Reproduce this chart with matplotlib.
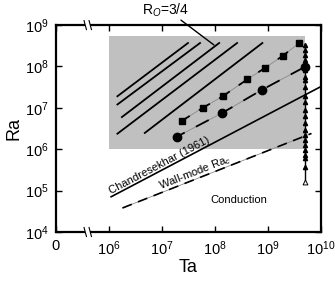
import matplotlib
matplotlib.use("Agg")
import matplotlib.pyplot as plt
from matplotlib.lines import Line2D
from matplotlib.patches import Rectangle
import numpy as np

plt.rcParams['font.family'] = ['Liberation Sans', 'DejaVu Sans']
plt.rcParams['mathtext.fontset'] = 'custom'
plt.rcParams['mathtext.rm'] = 'Liberation Sans'
plt.rcParams['mathtext.it'] = 'Liberation Sans:italic'

# ---- data ----
ta_sq = [2.4e7, 5.9e7, 1.4e8, 4.1e8, 8.9e8, 1.9e9, 3.9e9]
ra_sq = [4.9e6, 1.0e7, 1.9e7, 4.9e7, 9.3e7, 1.8e8, 3.7e8]

ta_ci = [1.9e7, 1.34e8, 7.6e8, 5.0e9]
ra_ci = [2.0e6, 7.4e6, 2.7e7, 9.8e7]

ta_tri = 5.0e9
ra_tri = [3.3e8, 2.5e8, 1.9e8, 1.4e8, 8.1e7, 5.6e7, 4.7e7, 3.2e7, 1.9e7, 1.4e7,
          8.9e6, 6.2e6, 4.3e6, 2.9e6, 2.2e6, 1.66e6, 1.26e6, 9.5e5, 7.2e5, 6.0e5, 3.8e5]
ra_tri_open = 1.6e5

ro_ta_start = [1.4e6, 1.4e6, 1.7e6, 1.4e6, 4.6e6]
ro_ra_start = [1.85e7, 1.17e7, 5.8e6, 2.3e6, 2.4e6]
ro_ta_end = [3.2e7, 5.4e7, 1.24e8, 2.7e8, 8.1e8]
ro_ra_end = [3.8e8, 3.8e8, 3.8e8, 3.8e8, 3.8e8]

chandra_ta = [1.1e6, 1.0e10]
chandra_ra = [7.1e4, 3.27e7]
wall_ta = [1.8e6, 6.6e9]
wall_ra = [3.8e4, 2.4e6]

shade_ta = [1.0e6, 5.0e9]
shade_ra = [1.0e6, 5.6e8]

x_ticks = [1e5, 1e6, 1e7, 1e8, 1e9, 1e10]
x_labels = ['0', '$10^6$', '$10^7$', '$10^8$', '$10^9$', '$10^{10}$']
y_ticks = [1e4, 1e5, 1e6, 1e7, 1e8, 1e9]
y_labels = ['$10^4$', '$10^5$', '$10^6$', '$10^7$', '$10^8$', '$10^9$']
x_break = 10 ** 5.6

# ---- figure ----
fig = plt.figure(figsize=(3.35, 2.85), dpi=100)
ax = fig.add_axes([0.167, 0.186, 0.791, 0.726])
ax.set_xscale('log')
ax.set_yscale('log')
ax.set_xlim(1e5, 1e10)
ax.set_ylim(1e4, 1e9)

ax.add_patch(Rectangle((shade_ta[0], shade_ra[0]), shade_ta[1] - shade_ta[0],
                       shade_ra[1] - shade_ra[0], facecolor='#c0c0c0',
                       edgecolor='none', zorder=0))

for xs, ys, xe, ye in zip(ro_ta_start, ro_ra_start, ro_ta_end, ro_ra_end):
    ax.plot([xs, xe], [ys, ye], color='black', lw=1.3, solid_capstyle='butt', zorder=2)

ax.plot(chandra_ta, chandra_ra, color='black', lw=1.2, zorder=2)
ax.plot(wall_ta, wall_ra, color='#888888', lw=0.6, zorder=2)
ax.plot(wall_ta, wall_ra, color='black', lw=1.2, linestyle=(0, (6, 4)), zorder=2)

# squares
ax.plot(ta_sq, ra_sq, color='#888888', lw=0.6, zorder=3)
ax.plot(ta_sq, ra_sq, color='black', lw=1.3, linestyle=(2, (7, 6)), zorder=3)
ax.plot(ta_sq, ra_sq, linestyle='none', marker='s', ms=5, color='black', zorder=4)
# circles
ax.plot(ta_ci, ra_ci, color='#888888', lw=0.6, zorder=3)
ax.plot(ta_ci, ra_ci, color='black', lw=1.3, linestyle=(3, (8, 7)), zorder=3)
ax.plot(ta_ci, ra_ci, linestyle='none', marker='o', ms=6, color='black', zorder=4)
# triangles
tri_all = ra_tri + [ra_tri_open]
ax.plot([ta_tri] * len(tri_all), tri_all, color='black', lw=1.0, zorder=3)
ax.plot([ta_tri] * len(ra_tri), ra_tri, linestyle='none', marker='^', ms=3,
        color='black', zorder=4)
ax.plot([ta_tri], [ra_tri_open], linestyle='none', marker='^', ms=3.5,
        markerfacecolor='white', markeredgecolor='black', mew=0.7, zorder=4)

# axes style
for s in ax.spines.values():
    s.set_linewidth(1.6)
ax.set_xticks(x_ticks)
ax.set_xticklabels(x_labels)
ax.set_yticks(y_ticks)
ax.set_yticklabels(y_labels)
ax.minorticks_off()
ax.tick_params(axis='both', which='major', direction='in', length=4, width=1.0,
               top=True, right=True, labelsize=10.5, pad=5)
ax.set_xlabel('Ta', fontsize=13, labelpad=1)
ax.set_ylabel('Ra', fontsize=13, labelpad=2)

fig.canvas.draw()


def line_label(xs, ys, xpos, text, offset_px, size):
    lx = np.log10(xs)
    ly = np.log10(ys)
    ypos = 10 ** np.interp(np.log10(xpos), lx, ly)
    p0 = ax.transData.transform((xs[0], ys[0]))
    p1 = ax.transData.transform((xs[1], ys[1]))
    ang = np.degrees(np.arctan2(p1[1] - p0[1], p1[0] - p0[0]))
    nx = -np.sin(np.radians(ang)) * offset_px * 0.72
    ny = np.cos(np.radians(ang)) * offset_px * 0.72
    ax.annotate(text, xy=(xpos, ypos), xytext=(nx, ny), textcoords='offset points',
                fontsize=size, rotation=ang, rotation_mode='anchor',
                ha='center', va='baseline')


line_label(chandra_ta, chandra_ra, 1.0e7, 'Chandresekhar (1961)', 2.5, 8)
line_label(wall_ta, wall_ra, 4.7e7, 'Wall-mode Ra$_c$', 3.5, 8)
ax.text(2.8e8, 5.9e4, 'Conduction', fontsize=8, ha='center', va='center')
ax.text(1.16e7, 2.3e9, 'R$_O$=3/4', fontsize=10, ha='center', va='center', clip_on=False)
ax.annotate('', xy=(9.6e7, 3.3e8), xytext=(2.28e7, 1.32e9),
            arrowprops=dict(arrowstyle='-', color='black', lw=1.0,
                            shrinkA=0, shrinkB=0), annotation_clip=False)

# axis break marks on top and bottom spines
for yv in (1e4, 1e9):
    px, py = ax.transData.transform((x_break, yv))
    gap = Rectangle((px - 2.5, py - 3), 5, 6, transform=None, facecolor='white',
                    edgecolor='none', zorder=10, clip_on=False)
    fig.add_artist(gap)
    for dx in (-2.5, 2.5):
        fig.add_artist(Line2D([px + dx - 1.2, px + dx + 1.2], [py + 4.5, py - 4.5],
                              transform=None, color='black', lw=0.8, zorder=11))

fig.savefig('out.png', dpi=100)
